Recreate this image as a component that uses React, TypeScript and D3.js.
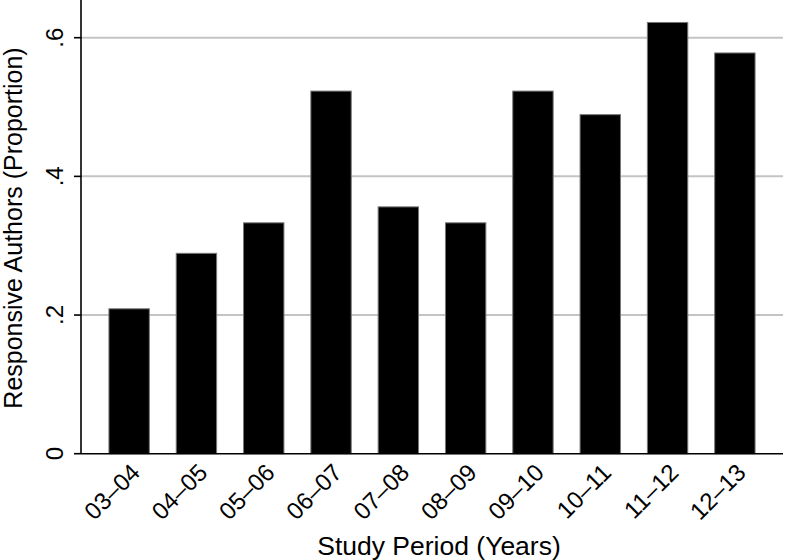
import React, { useRef, useEffect } from 'react';
import * as d3 from 'd3';

const periods = ['03–04', '04–05', '05–06', '06–07', '07–08', '08–09', '09–10', '10–11', '11–12', '12–13'];
const proportions = [0.209, 0.289, 0.333, 0.523, 0.356, 0.333, 0.523, 0.489, 0.622, 0.578];
const yTicks = [0, 0.2, 0.4, 0.6];
const yTickLabels = ['0', '.2', '.4', '.6'];

const width = 786;
const height = 560;
const font = '"Liberation Sans", Arial, Helvetica, sans-serif';

function BarChart() {
    const ref = useRef<SVGSVGElement>(null);

    useEffect(() => {
        const svg = d3.select(ref.current);
        svg.selectAll('*').remove();

        const left = 81, right = 783, bottom = 453.7;

        const x = d3.scaleBand<string>()
            .domain(periods)
            .range([left, right])
            .paddingInner(0.4)
            .paddingOuter(0.415);

        const y = d3.scaleLinear()
            .domain([0, 0.6])
            .range([bottom, 37.7]);

        // gridlines
        svg.append('g')
            .selectAll('line')
            .data(yTicks.filter(d => d > 0))
            .enter().append('line')
            .attr('x1', left)
            .attr('x2', right)
            .attr('y1', d => y(d))
            .attr('y2', d => y(d))
            .attr('stroke', '#c4c4c4')
            .attr('stroke-width', 2);

        // bars
        svg.append('g')
            .selectAll('rect')
            .data(proportions)
            .enter().append('rect')
            .attr('x', (d, i) => x(periods[i]))
            .attr('y', d => y(d))
            .attr('width', x.bandwidth())
            .attr('height', d => bottom - y(d))
            .attr('fill', '#000')
            .attr('stroke', '#777')
            .attr('stroke-width', 1);

        // y axis
        const yAxis = svg.append('g');
        yAxis.append('line')
            .attr('x1', left).attr('x2', left)
            .attr('y1', 0).attr('y2', bottom)
            .attr('stroke', '#000').attr('stroke-width', 1.6);
        yAxis.selectAll('line.tick')
            .data(yTicks)
            .enter().append('line')
            .attr('class', 'tick')
            .attr('x1', left - 7).attr('x2', left)
            .attr('y1', d => y(d)).attr('y2', d => y(d))
            .attr('stroke', '#000').attr('stroke-width', 1.6);
        yAxis.selectAll('text')
            .data(yTicks)
            .enter().append('text')
            .attr('transform', d => `translate(63,${y(d)}) rotate(-90)`)
            .attr('text-anchor', 'middle')
            .style('font-family', font)
            .style('font-size', '24px')
            .text((d, i) => yTickLabels[i]);

        // x axis
        const xAxis = svg.append('g');
        xAxis.append('line')
            .attr('x1', left).attr('x2', right)
            .attr('y1', bottom).attr('y2', bottom)
            .attr('stroke', '#000').attr('stroke-width', 1.6);
        xAxis.selectAll('text')
            .data(periods)
            .enter().append('text')
            .attr('transform', d => `translate(${x(d) + x.bandwidth() / 2 + 6.5},468) rotate(-45)`)
            .attr('text-anchor', 'end')
            .attr('dy', '0.35em')
            .style('font-family', font)
            .style('font-size', '24px')
            .text(d => d);

        // titles
        svg.append('text')
            .attr('transform', 'translate(22,228) rotate(-90)')
            .attr('text-anchor', 'middle')
            .style('font-family', font)
            .style('font-size', '25px')
            .text('Responsive Authors (Proportion)');

        svg.append('text')
            .attr('x', 439)
            .attr('y', 555)
            .attr('text-anchor', 'middle')
            .style('font-family', font)
            .style('font-size', '26.5px')
            .text('Study Period (Years)');
    }, []);

    return (
        <svg
            ref={ref}
            width={width}
            height={height}
            style={{ position: 'absolute', left: 0, top: 0, background: '#fff' }}
        />
    );
}

export default function App() {
    return <BarChart />;
}
